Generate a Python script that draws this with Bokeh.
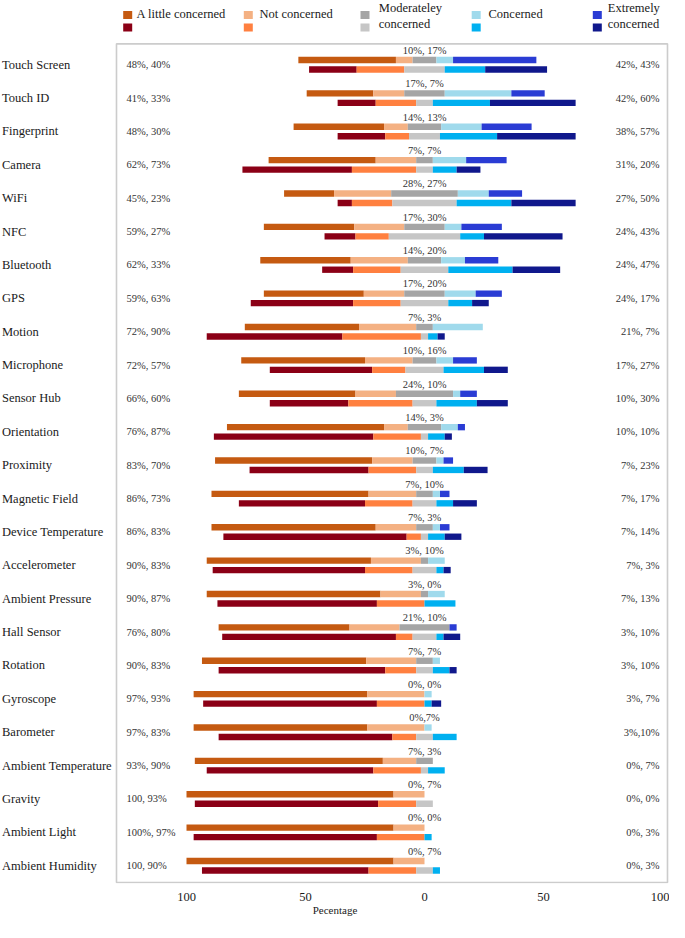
from bokeh.plotting import figure
from bokeh.models import ColumnDataSource, Range1d, FixedTicker, BoxAnnotation
from bokeh.core.properties import value
from bokeh.embed import file_html
from bokeh.resources import INLINE

# ---------------- data ----------------
categories = ["Touch Screen", "Touch ID", "Fingerprint", "Camera", "WiFi", "NFC",
              "Bluetooth", "GPS", "Motion", "Microphone", "Sensor Hub", "Orientation",
              "Proximity", "Magnetic Field", "Device Temperature", "Accelerometer",
              "Ambient Pressure", "Hall Sensor", "Rotation", "Gyroscope", "Barometer",
              "Ambient Temperature", "Gravity", "Ambient Light", "Ambient Humidity"]

levels = ["A little concerned", "Not concerned", "Moderateley concerned",
          "Concerned", "Extremely concerned"]

# group 1 (upper bar of each pair)
g1_little    = [41, 28, 38, 45, 21, 38, 38, 42, 48, 52, 49, 66, 66, 66, 69, 69, 73, 55, 69, 73, 73, 79, 87, 87, 87]
g1_not       = [7, 13, 10, 17, 24, 21, 24, 17, 24, 20, 17, 10, 17, 20, 17, 21, 17, 21, 21, 24, 24, 14, 13, 13, 13]
g1_moderate  = [10, 17, 14, 7, 28, 17, 14, 17, 7, 10, 24, 14, 10, 7, 7, 3, 3, 21, 7, 0, 0, 7, 0, 0, 0]
g1_concerned = [7, 28, 17, 14, 13, 7, 10, 13, 21, 7, 3, 7, 3, 3, 3, 7, 7, 0, 3, 3, 3, 0, 0, 0, 0]
g1_extreme   = [35, 14, 21, 17, 14, 17, 14, 11, 0, 10, 7, 3, 4, 4, 4, 0, 0, 3, 0, 0, 0, 0, 0, 0, 0]

# group 2 (lower bar of each pair)
g2_little    = [20, 16, 20, 46, 6, 13, 13, 43, 57, 43, 33, 67, 50, 53, 77, 64, 67, 73, 70, 73, 73, 70, 77, 77, 70]
g2_not       = [20, 17, 10, 27, 17, 14, 20, 20, 33, 14, 27, 20, 20, 20, 6, 20, 20, 7, 13, 20, 10, 20, 16, 20, 20]
g2_moderate  = [17, 7, 13, 7, 27, 30, 20, 20, 3, 16, 10, 3, 7, 10, 3, 10, 0, 10, 7, 0, 7, 3, 7, 0, 7]
g2_concerned = [17, 24, 24, 10, 23, 10, 27, 10, 4, 17, 17, 7, 13, 7, 7, 3, 13, 3, 7, 3, 10, 7, 0, 3, 3]
g2_extreme   = [26, 36, 33, 10, 27, 33, 20, 7, 3, 10, 13, 3, 10, 10, 7, 3, 0, 7, 3, 4, 0, 0, 0, 0, 0]

neutral_labels = ["10%, 17%", "17%, 7%", "14%, 13%", "7%, 7%", "28%, 27%", "17%, 30%",
                  "14%, 20%", "17%, 20%", "7%, 3%", "10%, 16%", "24%, 10%", "14%, 3%",
                  "10%, 7%", "7%, 10%", "7%, 3%", "3%, 10%", "3%, 0%", "21%, 10%",
                  "7%, 7%", "0%, 0%", "0%,7%", "7%, 3%", "0%, 7%", "0%, 0%", "0%, 7%"]
left_labels = ["48%, 40%", "41%, 33%", "48%, 30%", "62%, 73%", "45%, 23%", "59%, 27%",
               "62%, 33%", "59%, 63%", "72%, 90%", "72%, 57%", "66%, 60%", "76%, 87%",
               "83%, 70%", "86%, 73%", "86%, 83%", "90%, 83%", "90%, 87%", "76%, 80%",
               "90%, 83%", "97%, 93%", "97%, 83%", "93%, 90%", "100, 93%", "100%, 97%",
               "100, 90%"]
right_labels = ["42%, 43%", "42%, 60%", "38%, 57%", "31%, 20%", "27%, 50%", "24%, 43%",
                "24%, 47%", "24%, 17%", "21%, 7%", "17%, 27%", "10%, 30%", "10%, 10%",
                "7%, 23%", "7%, 17%", "7%, 14%", "7%, 3%", "7%, 13%", "3%, 10%",
                "3%, 10%", "3%, 7%", "3%,10%", "0%, 7%", "0%, 0%", "0%, 3%", "0%, 3%"]

tick_values = [-100, -50, 0, 50, 100]
tick_labels = ["100", "50", "0", "50", "100"]

colors_g1 = ["#C55A11", "#F4B183", "#A5A5A5", "#A0DAEC", "#2A3CD4"]
colors_g2 = ["#8B0016", "#FF8040", "#C6C6C6", "#00B0F0", "#10188C"]

legend_line1 = ["A little concerned", "Not concerned", "Moderateley", "Concerned", "Extremely"]
legend_line2 = ["", "", "concerned", "", "concerned"]

# ---------------- layout helpers (canvas pixels -> data) ----------------
W, H = 669, 918
BORDER_B = 28
ZERO_PX, PX_PCT = 424.0, 2.38
ROW0_PX, PITCH = 64.75, 33.64


def xd(px):
    return (px - ZERO_PX) / PX_PCT


def yd(py):
    return (py - ROW0_PX) / PITCH


OFF = 4.75 / PITCH
BAR_H = 6.4 / PITCH
FONT = "Liberation Serif"

p = figure(width=W, height=H, output_backend="svg", toolbar_location=None,
           x_range=Range1d(xd(0), xd(W)),
           y_range=Range1d(yd(H - BORDER_B), yd(0)),
           y_axis_location=None, x_axis_location="below",
           min_border_left=0, min_border_right=0, min_border_top=0,
           min_border_bottom=BORDER_B)
p.outline_line_color = None
p.grid.visible = False
p.background_fill_color = "white"
p.border_fill_color = "white"

# ---------------- bars ----------------
g1 = [g1_little, g1_not, g1_moderate, g1_concerned, g1_extreme]
g2 = [g2_little, g2_not, g2_moderate, g2_concerned, g2_extreme]

ys, lefts, rights, cols = [], [], [], []
for i in range(len(categories)):
    for grp, cset, dy in ((g1, colors_g1, -OFF), (g2, colors_g2, OFF)):
        vals = [grp[k][i] for k in range(5)]
        start = -(vals[0] + vals[1] + vals[2] / 2.0)
        for k in range(5):
            if vals[k] > 0:
                ys.append(i + dy)
                lefts.append(start)
                rights.append(start + vals[k])
                cols.append(cset[k])
            start += vals[k]

bars = ColumnDataSource(dict(y=ys, left=lefts, right=rights, color=cols))
p.hbar(y="y", left="left", right="right", height=BAR_H, fill_color="color",
       line_color=None, source=bars)

# ---------------- frame box ----------------
p.add_layout(BoxAnnotation(left=xd(116), right=xd(667), top=yd(43.7), bottom=yd(889),
                           fill_alpha=0, line_color="#555555", line_width=1.6))

rows = list(range(len(categories)))

# category names (left, outside box)
p.text(x=[xd(1.5)] * len(rows), y=rows, text=categories, text_font=value(FONT),
       text_font_size=value("12.5px"), text_color="#1a1a1a",
       text_align="left", text_baseline="middle")

# percentage annotations
p.text(x=[xd(126)] * len(rows), y=rows, text=left_labels, text_font=value(FONT),
       text_font_size=value("10.5px"), text_color="#333333",
       text_align="left", text_baseline="middle")
p.text(x=[xd(659)] * len(rows), y=rows, text=right_labels, text_font=value(FONT),
       text_font_size=value("10.5px"), text_color="#333333",
       text_align="right", text_baseline="middle")
p.text(x=[0] * len(rows), y=[r - OFF - 9.8 / PITCH for r in rows], text=neutral_labels,
       text_font=value(FONT), text_font_size=value("10.5px"), text_color="#333333",
       text_align="center", text_baseline="middle")

# ---------------- legend ----------------
sw_px = [122.7, 243.3, 360.0, 471.2, 592.3]
tx_px = [136.0, 259.0, 378.3, 488.0, 607.3]
sw_x = [xd(v + 4.5) for v in sw_px]
p.rect(x=sw_x, y=[yd(14.5)] * 5, width=9, height=8, width_units="screen",
       height_units="screen", fill_color=colors_g1, line_color=None)
p.rect(x=sw_x, y=[yd(27.2)] * 5, width=9, height=8, width_units="screen",
       height_units="screen", fill_color=colors_g2, line_color=None)
l1_y = [yd(8.0) if legend_line2[k] else yd(14.0) for k in range(5)]
p.text(x=[xd(v) for v in tx_px], y=l1_y, text=legend_line1, text_font=value(FONT),
       text_font_size=value("12.5px"), text_color="#1a1a1a",
       text_align="left", text_baseline="middle")
p.text(x=[xd(v) for v in tx_px], y=[yd(23.5)] * 5, text=legend_line2, text_font=value(FONT),
       text_font_size=value("12.5px"), text_color="#1a1a1a",
       text_align="left", text_baseline="middle")

# ---------------- axis ----------------
ax = p.xaxis[0]
ax.ticker = FixedTicker(ticks=tick_values)
ax.major_label_overrides = {v: s for v, s in zip(tick_values, tick_labels)}
ax.bounds = (xd(47), xd(667))
ax.axis_line_color = None
ax.major_tick_line_color = None
ax.minor_tick_line_color = None
ax.major_label_standoff = 3
ax.major_label_text_font = FONT
ax.major_label_text_font_size = "12.5px"
ax.major_label_text_color = "#1a1a1a"
ax.axis_label = "Pecentage"
ax.axis_label_standoff = 0
ax.axis_label_text_font = FONT
ax.axis_label_text_font_size = "11px"
ax.axis_label_text_font_style = "normal"
ax.axis_label_text_color = "#1a1a1a"

open("out.html", "w").write(file_html(p, INLINE))
